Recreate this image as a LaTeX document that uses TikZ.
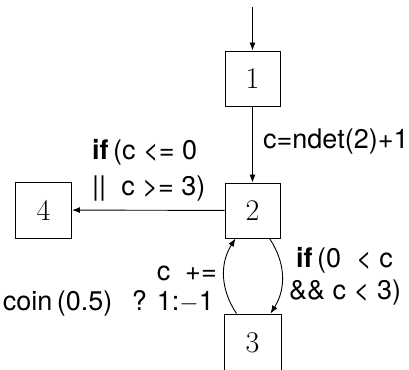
\documentclass[tikz,border=0pt]{standalone}
\usepackage{fontspec}
\newfontfamily\lab{TeX Gyre Heros}
\usetikzlibrary{arrows.meta}
\tikzset{
  state/.style={draw, line width=0.9pt, minimum size=55pt, inner sep=0pt,
    font=\fontsize{30}{30}\selectfont},
  edge/.style={line width=0.9pt, -{Latex[length=8pt,width=6pt]}},
  txt/.style={inner sep=0pt, font=\fontsize{27}{30}\lab}
}
\begin{document}
\begin{tikzpicture}[x=1pt,y=-1pt]
  \useasboundingbox (0,0) rectangle (409,369);
  % states
  \node[state] (n1) at (252.5,78.5) {1};
  \node[state] (n2) at (252.5,210.5) {2};
  \node[state, minimum size=56pt] (n4) at (43.5,210) {4};
  \node[state, minimum size=57pt] (n3) at (252.5,342.5) {3};
  \coordinate (entry) at (252.5,7);
  % transitions
  \draw[edge] (entry) -- (n1);
  \draw[edge] (n1) -- (n2);
  \draw[edge] (n2) -- (n4);
  \draw[edge] ([xshift=17pt]n2.south) to[bend left=33] ([xshift=18pt]n3.north);
  \draw[edge] ([xshift=-16pt]n3.north) to[bend left=33] ([xshift=-17pt]n2.south);
  % guards and updates
  \node[txt, anchor=base west] (upd1) at (263,148) {c=ndet(2)+1};
  \node[txt, anchor=base west] (g4a) at (92,159) {\textbf{if}\,(c <= 0};
  \node[txt, anchor=base west] (g4b) at (92,195) {||\ \ c >= 3)};
  \node[txt, anchor=base west] (g3a) at (296,267) {\textbf{if}\,(0\ \ < c};
  \node[txt, anchor=base west] (g3b) at (289,299) {\&\& c < 3)};
  \node[txt, anchor=base east] (u2a) at (217,280) {c\ \ +=};
  \node[txt, anchor=base east] (u2b) at (214,310) {coin\,(0.5)\ \ \,? 1:\ensuremath{-}1};
\end{tikzpicture}
\end{document}
